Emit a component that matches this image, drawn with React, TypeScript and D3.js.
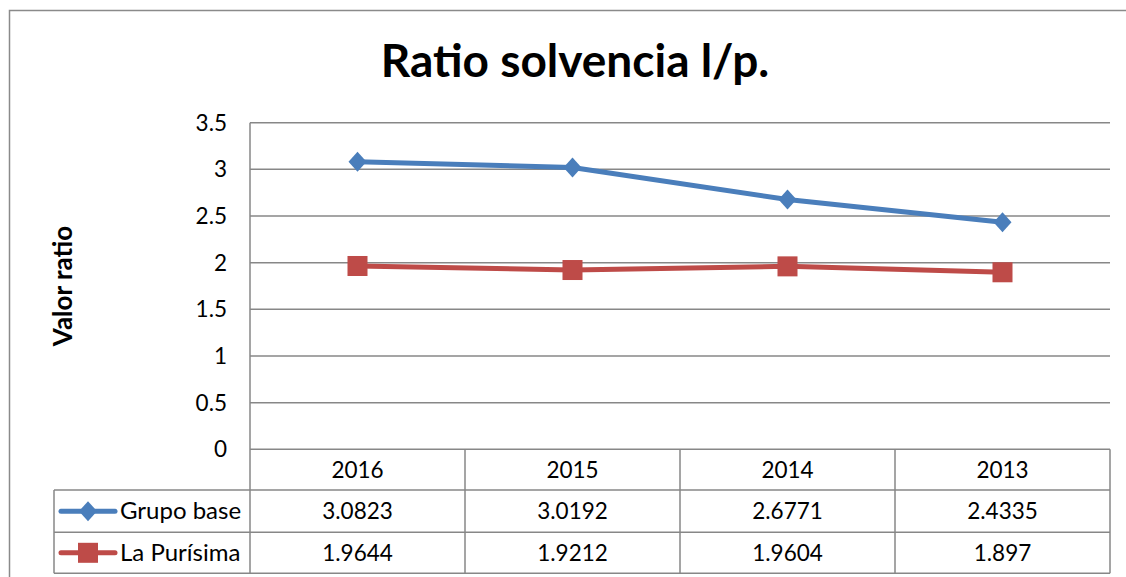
import React from "react";
import * as d3 from "d3";

const categories = ["2016", "2015", "2014", "2013"];
const grupoBase = [3.0823, 3.0192, 2.6771, 2.4335];
const laPurisima = [1.9644, 1.9212, 1.9604, 1.897];
const yTicks = [0, 0.5, 1, 1.5, 2, 2.5, 3, 3.5];
const seriesNames = ["Grupo base", "La Purísima"];
const seriesLabels = [
  ["3.0823", "3.0192", "2.6771", "2.4335"],
  ["1.9644", "1.9212", "1.9604", "1.897"],
];

const W = 1126;
const H = 577;
const left = 250;
const right = 1110;
const top = 122.7;
const bottom = 449.3;
const font = "Lato, 'Open Sans', sans-serif";
const grid = "#878787";
const blue = "#4A7EBB";
const red = "#BE4B48";
const fs = 22.5;

export default function App() {
  const x = d3.scaleBand().domain(categories).range([left, right]);
  const y = d3.scaleLinear().domain([0, 3.5]).range([bottom, top]);
  const cx = (c: string) => (x(c) as number) + x.bandwidth() / 2;
  const line = d3
    .line<number>()
    .x((_, i) => cx(categories[i]))
    .y((d) => y(d));
  const rowTops = [bottom, 490, 532.3, 573.3];
  const rowMid = (i: number) => (rowTops[i] + rowTops[i + 1]) / 2;
  const series = [grupoBase, laPurisima];
  const colors = [blue, red];

  const marker = (k: number, px: number, py: number, key: string) =>
    k === 0 ? (
      <path
        key={key}
        d={`M${px},${py - 10}L${px + 9},${py}L${px},${py + 10}L${px - 9},${py}Z`}
        fill={blue}
      />
    ) : (
      <rect key={key} x={px - 10} y={py - 10} width={20} height={20} fill={red} />
    );

  return (
    <svg
      width={W}
      height={H}
      style={{ position: "absolute", left: 0, top: 0, background: "#fff" }}
    >
      <rect x={0} y={0} width={W} height={H} fill="#fff" />
      <path d={`M9.5,${H + 2}V10.5H${W + 2}`} fill="none" stroke="#8a8a8a" strokeWidth={1.5} />
      <text
        x={575}
        y={77}
        textAnchor="middle"
        fontFamily={font}
        fontWeight="bold"
        fontSize={46}
        fill="#000"
      >
        Ratio solvencia l/p.
      </text>
      <text
        transform={`translate(72,286) rotate(-90)`}
        textAnchor="middle"
        fontFamily={font}
        fontWeight="bold"
        fontSize={26}
        fill="#000"
      >
        Valor ratio
      </text>
      {yTicks.map((t) => (
        <line
          key={"g" + t}
          x1={left}
          x2={right}
          y1={y(t)}
          y2={y(t)}
          stroke={grid}
          strokeWidth={1.5}
        />
      ))}
      {yTicks.map((t) => (
        <text
          key={"t" + t}
          x={227}
          y={y(t) + 8}
          textAnchor="end"
          fontFamily={font}
          fontSize={fs}
          fill="#000"
        >
          {t}
        </text>
      ))}
      <line x1={left} x2={left} y1={top} y2={rowTops[3]} stroke={grid} strokeWidth={1.5} />
      {rowTops.slice(1).map((ry, i) => (
        <line key={"r" + i} x1={54} x2={right} y1={ry} y2={ry} stroke={grid} strokeWidth={1.5} />
      ))}
      <line x1={54} x2={54} y1={rowTops[1]} y2={rowTops[3]} stroke={grid} strokeWidth={1.5} />
      {categories.map((c) => (
        <line
          key={"v" + c}
          x1={(x(c) as number) + x.bandwidth()}
          x2={(x(c) as number) + x.bandwidth()}
          y1={bottom}
          y2={rowTops[3]}
          stroke={grid}
          strokeWidth={1.5}
        />
      ))}
      {categories.map((c) => (
        <text
          key={"c" + c}
          x={cx(c)}
          y={rowMid(0) + 8}
          textAnchor="middle"
          fontFamily={font}
          fontSize={fs}
          fill="#000"
        >
          {c}
        </text>
      ))}
      {seriesLabels.map((row, k) =>
        row.map((v, i) => (
          <text
            key={"v" + k + i}
            x={cx(categories[i])}
            y={rowMid(k + 1) + 8}
            textAnchor="middle"
            fontFamily={font}
            fontSize={fs}
            fill="#000"
          >
            {v}
          </text>
        ))
      )}
      {seriesNames.map((n, k) => {
        const my = rowMid(k + 1);
        return (
          <g key={"l" + n}>
            <line x1={61} x2={115} y1={my} y2={my} stroke={colors[k]} strokeWidth={5} strokeLinecap="round" />
            {marker(k, 88, my, "lm" + k)}
            <text x={120} y={my + 8} fontFamily={font} fontSize={24} fill="#000">
              {n}
            </text>
          </g>
        );
      })}
      {series.map((s, k) => (
        <g key={"s" + k}>
          <path d={line(s) || ""} fill="none" stroke={colors[k]} strokeWidth={5} strokeLinejoin="round" />
          {s.map((v, i) => marker(k, cx(categories[i]), y(v), "m" + k + i))}
        </g>
      ))}
    </svg>
  );
}
